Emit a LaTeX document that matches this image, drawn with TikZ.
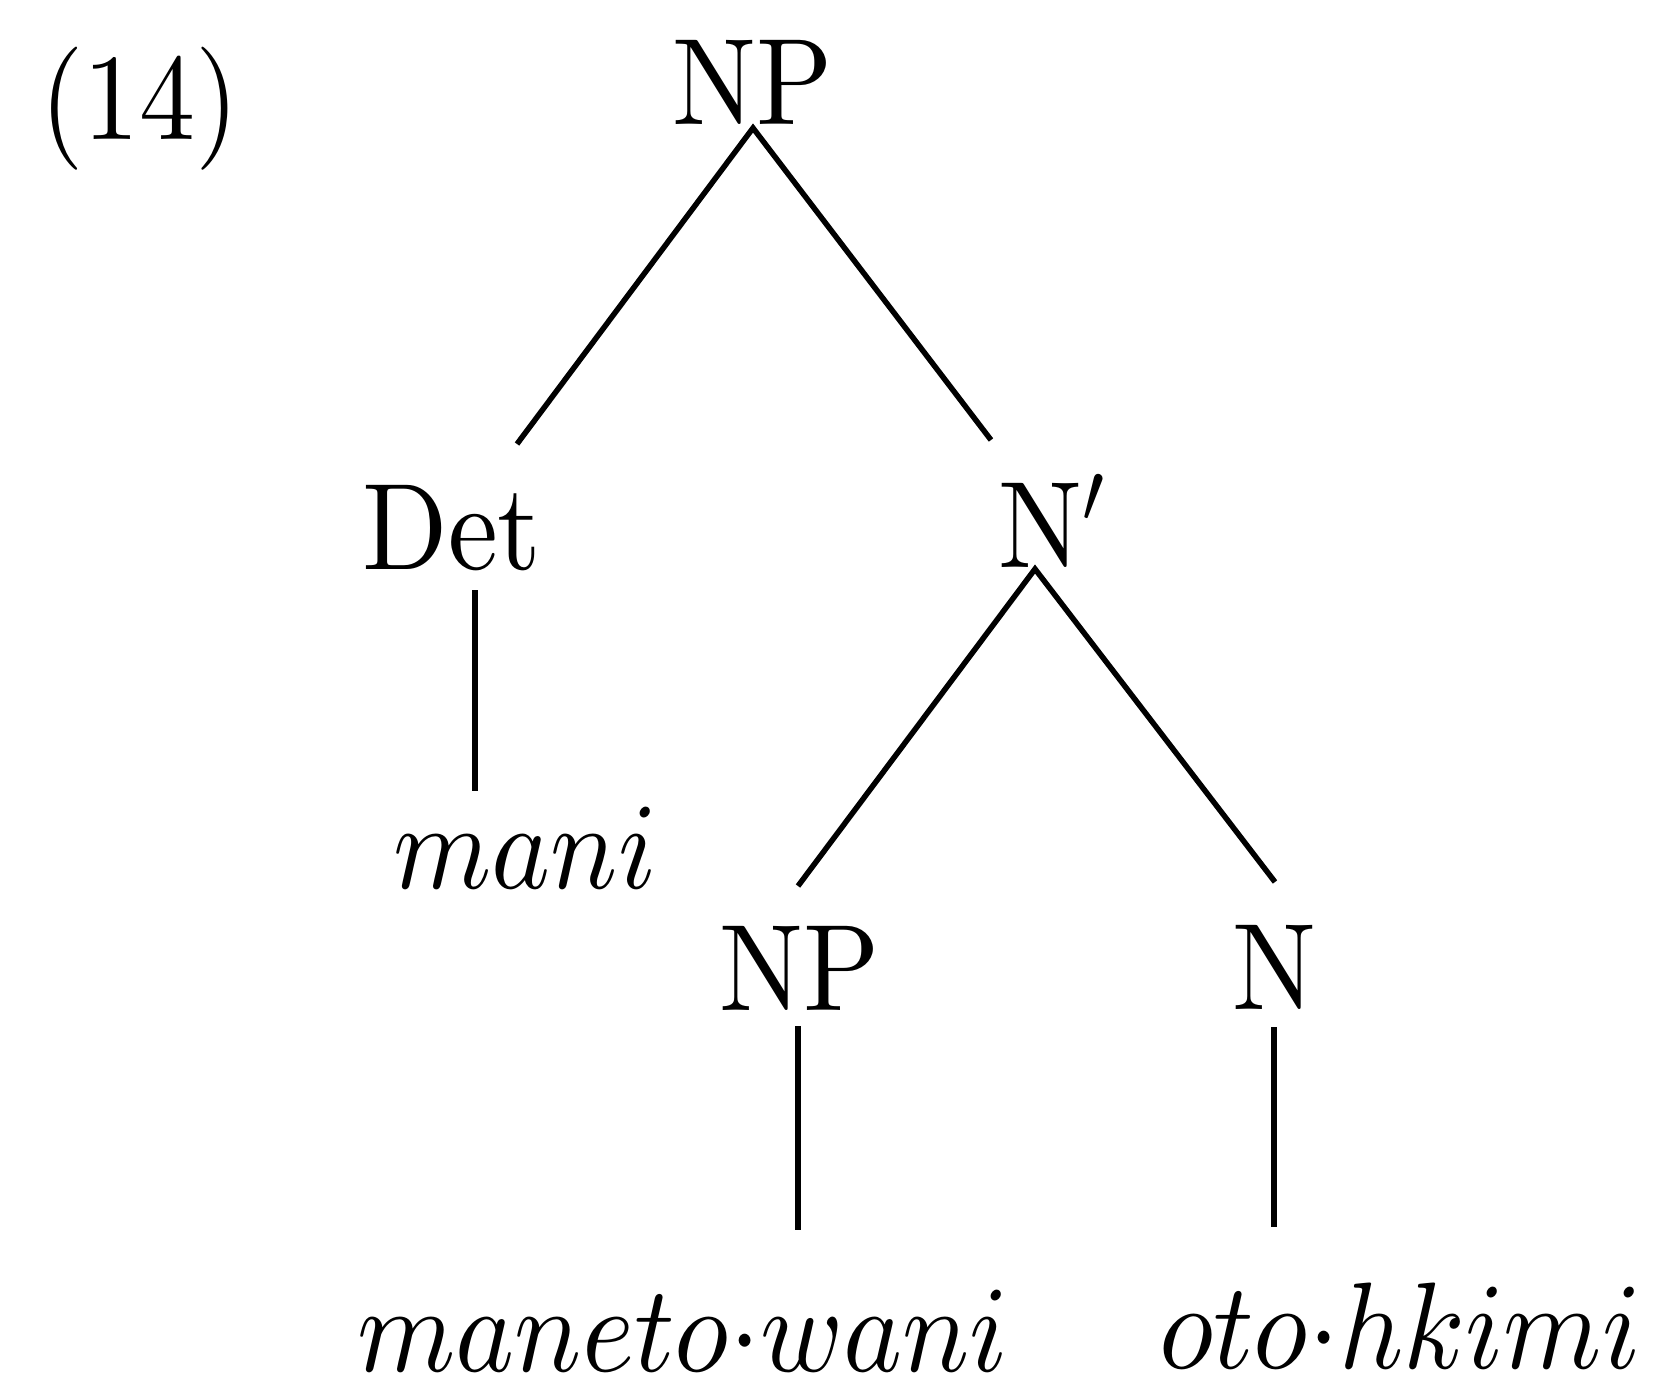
\documentclass[tikz,border=0pt]{standalone}
\usepackage{graphicx}
\DeclareFontShape{OT1}{cmr}{m}{n}{<->cmr10}{}
\DeclareFontShape{OML}{cmm}{m}{it}{<->cmmi10}{}
\DeclareFontShape{OMS}{cmsy}{m}{n}{<->cmsy10}{}
\newcommand\vstretch[1]{\scalebox{1}[1.1]{#1}}
\begin{document}
\begin{tikzpicture}[x=1pt,y=-1pt,
  lbl/.style={inner sep=0pt, anchor=base,
    font=\fontencoding{OT1}\fontfamily{cmr}\fontsize{112}{134}\selectfont},
  branch/.style={line width=5.5pt}]
\useasboundingbox (0,0) rectangle (1656,1384);
% labels
\node[lbl] (ex)   at (140,139)  {\vstretch{(14)}};
\node[lbl] (np)   at (753,124)  {\vstretch{NP}};
\node[lbl] (det)  at (452,569)  {\vstretch{Det}};
\node[lbl, anchor=base west] (nbar) at (998,567) {\vstretch{N$'$}};
\node[lbl] (mani) at (525,888)  {\vstretch{$mani$}};
\node[lbl] (np2)  at (800,1010) {\vstretch{NP}};
\node[lbl] (n)    at (1274,1009) {\vstretch{N}};
\node[lbl] (mw)   at (683,1371) {\vstretch{$maneto{\cdot}wani$}};
\node[lbl] (oh)   at (1400,1368) {\vstretch{$oto{\cdot}hkimi$}};
% branch end points
\coordinate (np-b)   at (753,128);
\coordinate (det-t)  at (517,444);
\coordinate (nbar-t) at (991,440);
\coordinate (det-b)  at (475,590);
\coordinate (mani-t) at (475,791);
\coordinate (nbar-b) at (1035,569);
\coordinate (np2-t)  at (798,886);
\coordinate (n-t)    at (1275,882);
\coordinate (np2-b)  at (798,1026);
\coordinate (mw-t)   at (798,1230);
\coordinate (n-b)    at (1274,1027);
\coordinate (oh-t)   at (1274,1227);
% branches
\draw[branch] (det-t) -- (np-b) -- (nbar-t);
\draw[branch] (det-b) -- (mani-t);
\draw[branch] (np2-t) -- (nbar-b) -- (n-t);
\draw[branch] (np2-b) -- (mw-t);
\draw[branch] (n-b) -- (oh-t);
\end{tikzpicture}
\end{document}
